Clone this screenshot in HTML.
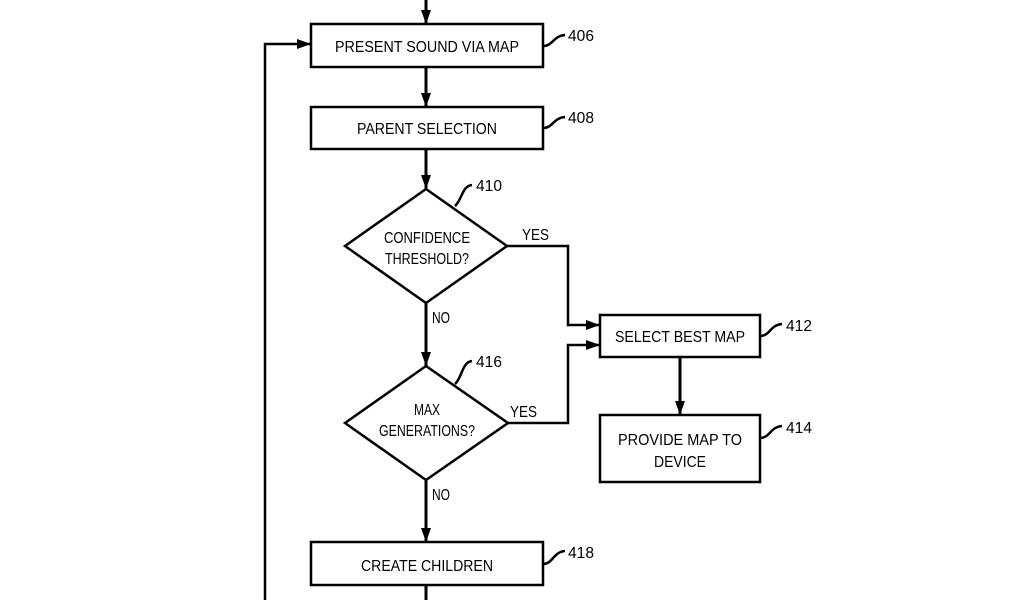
<!DOCTYPE html>
<html><head><style>html,body{margin:0;padding:0;background:#fff}</style></head>
<body>
<svg width="1024" height="600" viewBox="0 0 1024 600" xmlns="http://www.w3.org/2000/svg" font-family="Liberation Sans, sans-serif" font-size="16">
<defs><marker id="a" markerWidth="10" markerHeight="10" refX="9" refY="5" orient="auto" markerUnits="userSpaceOnUse"><path d="M0,1 L10,5 L0,9 Z" fill="#000"/></marker>
<marker id="b" markerWidth="14" markerHeight="12" refX="14" refY="6" orient="auto" markerUnits="userSpaceOnUse"><path d="M0,1 L14,6 L0,11 Z" fill="#000"/></marker></defs>
<g stroke="#000" fill="none" stroke-width="2.5">
<line x1="426" y1="0" x2="426" y2="24" marker-end="url(#b)" stroke-width="3"/>
<rect x="311" y="24" width="232" height="43"/>
<line x1="426" y1="67" x2="426" y2="107" marker-end="url(#b)" stroke-width="3"/>
<rect x="311" y="107" width="232" height="42"/>
<line x1="426" y1="149" x2="426" y2="189" marker-end="url(#b)" stroke-width="3"/>
<polygon points="426,189 507,246 426,303 345,246"/>
<line x1="426" y1="303" x2="426" y2="366" marker-end="url(#b)" stroke-width="3"/>
<polygon points="426,366 508,423 426,480 345,423"/>
<line x1="426" y1="480" x2="426" y2="542" marker-end="url(#b)" stroke-width="3"/>
<rect x="311" y="542" width="232" height="43"/>
<line x1="426" y1="585" x2="426" y2="600" stroke-width="3"/>
<rect x="600" y="315" width="160" height="42"/>
<rect x="600" y="415" width="160" height="67"/>
<line x1="680" y1="357" x2="680" y2="415" marker-end="url(#b)" stroke-width="3"/>
<polyline points="507,246 568,246 568,325 600,325" marker-end="url(#b)"/>
<polyline points="508,423 568,423 568,345 600,345" marker-end="url(#b)"/>
<polyline points="265,600 265,44 311,44" marker-end="url(#b)"/>
<path d="M543,46 C553,46 553,36 565,35"/>
<path d="M543,128 C553,128 553,118 565,117"/>
<path d="M455,206 C462,200 462,186 472,185"/>
<path d="M455,384 C462,378 462,362 472,361"/>
<path d="M760,336 C770,336 770,325 782,324"/>
<path d="M760,438 C770,438 770,427 782,426"/>
<path d="M543,564 C553,564 553,552 565,551"/>
</g>
<g fill="#000" text-anchor="middle">
<text x="427" y="52" textLength="184" lengthAdjust="spacingAndGlyphs">PRESENT SOUND VIA MAP</text>
<text x="427" y="134" textLength="140" lengthAdjust="spacingAndGlyphs">PARENT SELECTION</text>
<text x="427" y="243" textLength="86" lengthAdjust="spacingAndGlyphs">CONFIDENCE</text>
<text x="427" y="264" textLength="84" lengthAdjust="spacingAndGlyphs">THRESHOLD?</text>
<text x="427" y="415" textLength="26" lengthAdjust="spacingAndGlyphs">MAX</text>
<text x="427" y="436" textLength="96" lengthAdjust="spacingAndGlyphs">GENERATIONS?</text>
<text x="427" y="571" textLength="132" lengthAdjust="spacingAndGlyphs">CREATE CHILDREN</text>
<text x="680" y="342" textLength="130" lengthAdjust="spacingAndGlyphs">SELECT BEST MAP</text>
<text x="680" y="445" textLength="124" lengthAdjust="spacingAndGlyphs">PROVIDE MAP TO</text>
<text x="680" y="467" textLength="52" lengthAdjust="spacingAndGlyphs">DEVICE</text>
</g>
<g fill="#000">
<text x="522" y="240" textLength="27" lengthAdjust="spacingAndGlyphs">YES</text>
<text x="510" y="417" textLength="27" lengthAdjust="spacingAndGlyphs">YES</text>
<text x="432" y="323" textLength="18" lengthAdjust="spacingAndGlyphs">NO</text>
<text x="432" y="500" textLength="18" lengthAdjust="spacingAndGlyphs">NO</text>
<text x="568" y="41" textLength="26" lengthAdjust="spacingAndGlyphs">406</text>
<text x="568" y="123" textLength="26" lengthAdjust="spacingAndGlyphs">408</text>
<text x="476" y="191" textLength="26" lengthAdjust="spacingAndGlyphs">410</text>
<text x="476" y="367" textLength="26" lengthAdjust="spacingAndGlyphs">416</text>
<text x="786" y="331" textLength="26" lengthAdjust="spacingAndGlyphs">412</text>
<text x="786" y="433" textLength="26" lengthAdjust="spacingAndGlyphs">414</text>
<text x="568" y="558" textLength="26" lengthAdjust="spacingAndGlyphs">418</text>
</g>
</svg>
</body></html>
